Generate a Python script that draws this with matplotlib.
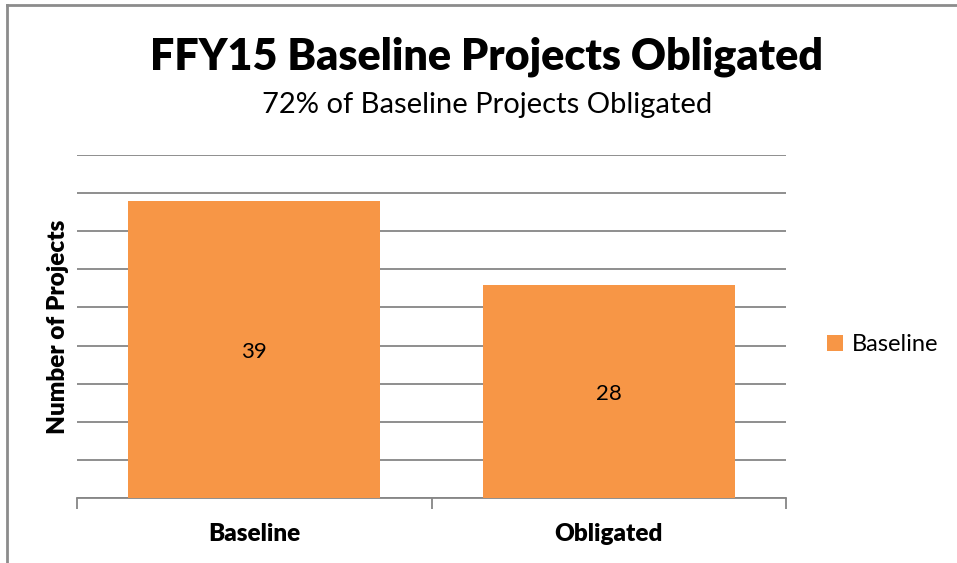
import matplotlib
matplotlib.use("Agg")
import matplotlib.pyplot as plt
from matplotlib.lines import Line2D
from matplotlib.patches import Patch

plt.rcParams['font.family'] = ['Lato', 'DejaVu Sans']

categories = ['Baseline', 'Obligated']
values = [39, 28]
series_name = 'Baseline'
title = 'FFY15 Baseline Projects Obligated'
subtitle = '72% of Baseline Projects Obligated'
ylabel = 'Number of Projects'

bar_color = '#F79646'
grid_color = '#868686'

fig = plt.figure(figsize=(9.57, 5.63), dpi=100)
ax = fig.add_axes([77 / 957, 1 - 498 / 563, (786 - 77) / 957, (498 - 155) / 563])

x = range(len(categories))
bars = ax.bar(x, values, width=0.71, color=bar_color, zorder=3)
for b, v in zip(bars, values):
    ax.text(b.get_x() + b.get_width() / 2, v / 2 - 0.3, str(v), ha='center', va='center',
            fontsize=16, color='black', zorder=4)

ax.set_xlim(-0.5, 1.5)
ax.set_ylim(0, 45)
ax.set_yticks(range(0, 46, 5))
ax.yaxis.grid(True, color=grid_color, linewidth=1.3, zorder=0)
ax.tick_params(axis='y', length=0, labelleft=False)

# category labels between the tick marks
ax.set_xticks([-0.5, 0.5, 1.5])
ax.set_xticklabels([])
ax.tick_params(axis='x', length=8, width=1.3, color=grid_color, direction='out')
for i, c in enumerate(categories):
    ax.text(i, -0.105, c, transform=ax.get_xaxis_transform(), ha='center', va='center',
            fontsize=17.5, fontweight='heavy')

for s in ['top', 'right', 'left']:
    ax.spines[s].set_visible(False)
ax.spines['bottom'].set_color(grid_color)
ax.spines['bottom'].set_linewidth(1.3)

ax.set_ylabel(ylabel, fontsize=17.5, fontweight='heavy', labelpad=6)

fig.text(487 / 957, 1 - 57 / 563, title, ha='center', va='center',
         fontsize=31, fontweight='heavy')
fig.text(487 / 957, 1 - 105 / 563, subtitle, ha='center', va='center', fontsize=21)

handle = Patch(facecolor=bar_color, edgecolor='none')
fig.legend([handle], [series_name], loc='center left', bbox_to_anchor=(806 / 957, 1 - 345 / 563),
           frameon=False, fontsize=17, handlelength=0.65, handleheight=0.65, handletextpad=0.4)

# chart border (left and top visible)
fig.add_artist(Line2D([7 / 957, 7 / 957], [0, 1 - 5 / 563], color='#8c8c8c', linewidth=2,
                      transform=fig.transFigure))
fig.add_artist(Line2D([7 / 957, 1], [1 - 5 / 563, 1 - 5 / 563], color='#8c8c8c', linewidth=2,
                      transform=fig.transFigure))

fig.savefig('out.png', dpi=100)
